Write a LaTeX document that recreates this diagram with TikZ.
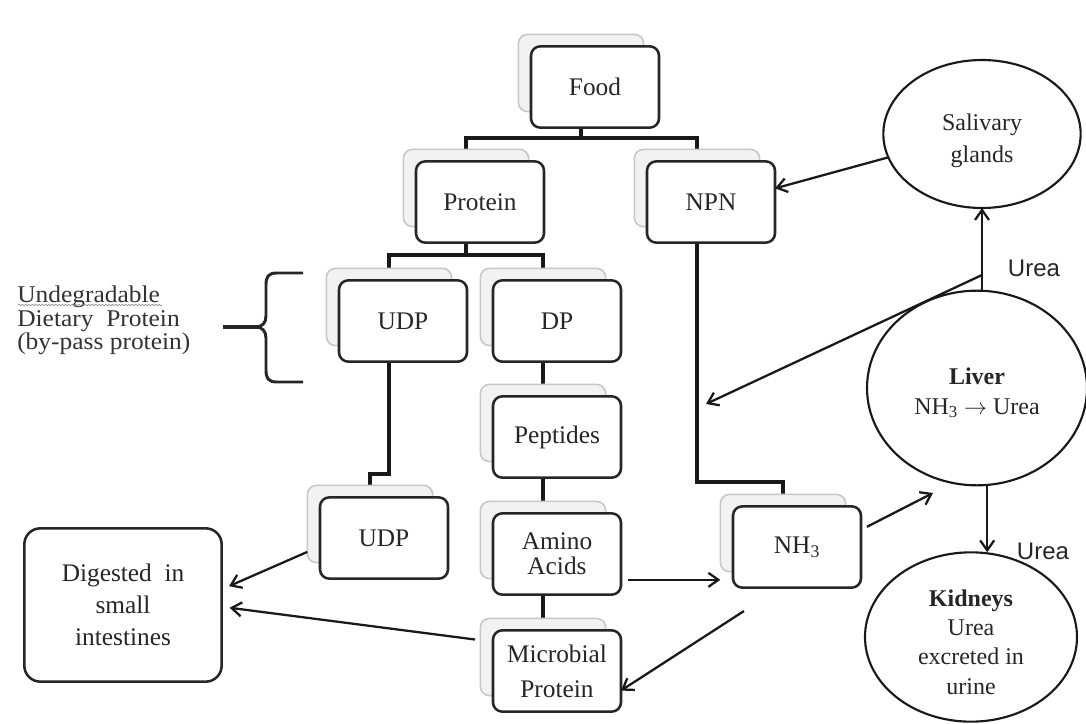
\documentclass[tikz,border=0pt]{standalone}
\usepackage{fontspec}
\setmainfont{Liberation Serif}
\newfontfamily\sansfont{Liberation Sans}
\newfontfamily\labfont[FakeStretch=1.06]{Liberation Serif}
\usetikzlibrary{arrows.meta,backgrounds,shapes.geometric,decorations.pathmorphing}
\tikzset{
  box/.style={draw=black!85, line width=1.9pt, rounded corners=7pt, fill=white,
    minimum width=96pt, minimum height=61pt, inner sep=2pt, outer sep=0pt,
    align=center, text=black!85, font=\fontsize{19}{19}\selectfont},
  shad/.style={draw=black!22, line width=1.2pt, rounded corners=7pt, fill=black!5,
    minimum width=94pt, minimum height=58pt, outer sep=0pt},
  ell/.style={ellipse, draw=black!90, line width=1.6pt, fill=white, inner sep=0pt,
    outer sep=0pt, align=center, text=black!85, font=\fontsize{18}{22}\selectfont},
  tree/.style={line width=2.8pt, draw=black!90},
  arr/.style={line width=1.7pt, draw=black!90, -{Straight Barb[length=7.5pt,width=10.5pt]}},
  lab/.style={font=\sansfont\fontsize{18}{18}\selectfont, text=black!85},
}
\begin{document}
\begin{tikzpicture}[x=0.75pt,y=-0.75pt]
\useasboundingbox (0,0) rectangle (1086,724);

% stacked boxes
\node[shad] (foodS) at (581,73) {};
\node[box] (food) at (595,87) {Food};
\node[shad] (proteinS) at (466,188) {};
\node[box] (protein) at (480,202) {Protein};
\node[shad] (npnS) at (697,188) {};
\node[box] (npn) at (711,202) {NPN};
\node[shad] (udpaS) at (389,307) {};
\node[box] (udpa) at (403,321) {UDP};
\node[shad] (dpS) at (543,307) {};
\node[box] (dp) at (557,321) {DP};
\node[shad] (pepS) at (543,423) {};
\node[box] (pep) at (557,437) {Peptides};
\node[shad] (udpbS) at (370,524) {};
\node[box] (udpb) at (384,538) {UDP};
\node[shad] (aminoS) at (543,540) {};
\node[box, font=\fontsize{19}{19}\selectfont] (amino) at (557,554) {Amino\\Acids};
\node[shad] (microS) at (543,657) {};
\node[box, font=\fontsize{19}{26}\selectfont] (micro) at (557,671) {Microbial\\Protein};
\node[shad] (nhS) at (783,533) {};
\node[box] (nh) at (797,547) {NH\textsubscript{3}};

\node[box, minimum width=148pt, minimum height=115pt, rounded corners=12pt,
  font=\fontsize{19}{24}\selectfont] (dig) at (123,605) {Digested\ \ in\\small\\intestines};

% ellipses
\node[ell, minimum width=148pt, minimum height=111pt, font=\fontsize{18}{24}\selectfont]
  (sal) at (982,134) {\rule{0pt}{22pt}Salivary\\glands};
\node[ell, minimum width=165pt, minimum height=146pt] (liver) at (977,388)
  {\rule{0pt}{20pt}\textbf{Liver}\\NH\textsubscript{3} $\rightarrow$ Urea};
\node[ell, minimum width=159pt, minimum height=127pt] (kid) at (971,637)
  {\rule{0pt}{20pt}\textbf{Kidneys}\\Urea\\excreted in\\urine};

% labels
\node[lab] (ureaA) at (1034,268) {Urea};
\node[lab] (ureaB) at (1043,551) {Urea};
\node[anchor=north west, inner sep=0pt, align=left, text=black!80,
  font=\labfont\fontsize{18}{17.5}\selectfont] (udptext) at (17,286)
  {Undegradable\\Dietary\ \ Protein\\(by-pass protein)};
\draw[black!45, line width=0.5pt, decorate,
  decoration={snake, amplitude=0.5pt, segment length=2.5pt}]
  (18,305) -- (162,305);

% brace
\draw[line width=2.2pt, black!85]
  (303,273) -- (277,273) .. controls (268,273) and (266,277) .. (266,285)
  -- (266,316) .. controls (266,323) and (262,327) .. (256,327)
  .. controls (262,327) and (266,331) .. (266,338)
  -- (266,370) .. controls (266,378) and (268,382) .. (277,382) -- (303,382);
\draw[line width=3pt, black!85] (223,327) -- (258,327);

% tree connectors
\begin{scope}[on background layer]
\fill[white] (0,0) rectangle (1086,724);
\draw[tree] (proteinS.north) |- (foodS.south |- 0,138) -- (foodS.south);
\draw[tree] (npnS.north) |- (foodS.south |- 0,138);
\draw[tree] (udpaS.north) |- (proteinS.south |- 0,255) -- (proteinS.south);
\draw[tree] (dpS.north) |- (proteinS.south |- 0,255);
\draw[tree] (dpS.south) -- (pepS.north);
\draw[tree] (pepS.south) -- (aminoS.north);
\draw[tree] (aminoS.south) -- (microS.north);
\draw[tree] (udpaS.south) -- (udpaS.south |- 0,474) -| (udpbS.north);
\draw[tree] (npnS.south) -- (npnS.south |- 0,482) -| (nhS.north);
\end{scope}

% arrows
\coordinate (ujoin) at (sal.south |- 0,275);
\coordinate (ptip) at (706,404);
\coordinate (ltip) at (933,493);
\coordinate (nhfoot) at (744,611);
\draw[arr] (sal.194) -- (npn.12);
\draw[arr] (sal.south |- liver.north) -- (sal.south);
\draw[arr] (ujoin) -- (ptip);
\draw[arr, shorten <=5pt] (nh.15) -- (ltip);
\draw[arr] (liver.-84) -- (liver.-84 |- kid.north);
\draw[arr, shorten <=5pt] (amino.-22) -- (amino.-22 -| nhS.west);
\draw[arr] (nhfoot) -- (micro.-17);
\draw[arr, shorten >=6pt] (udpbS.204) -- (dig.9);
\draw[arr, shorten >=6pt, shorten <=4pt] (microS.165) -- (dig.-1);
\end{tikzpicture}
\end{document}
